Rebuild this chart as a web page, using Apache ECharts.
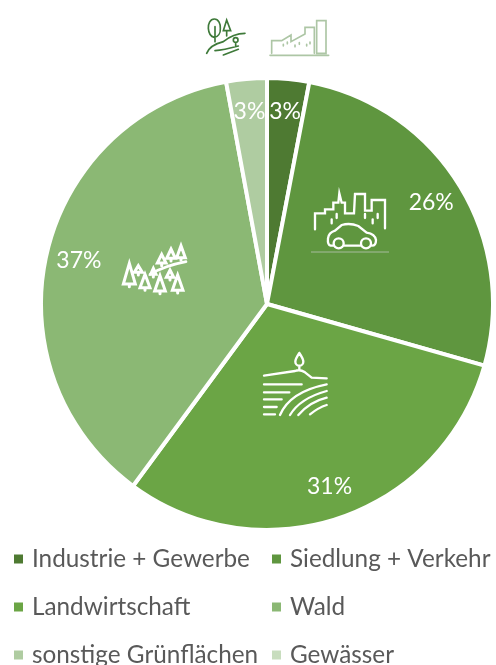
<!DOCTYPE html>
<html>
<head>
<meta charset="utf-8">
<style>
html,body{margin:0;padding:0;background:#fff;overflow:hidden}
#main{width:496px;height:665px}
</style>
<script src="https://cdn.jsdelivr.net/npm/echarts@6/dist/echarts.min.js"></script>
</head>
<body>
<div id="main"></div>
<script>
var categories = ['Industrie + Gewerbe','Siedlung + Verkehr','Landwirtschaft','Wald','sonstige Grünflächen','Gewässer'];
var shares = [3.0,26.4,30.7,37.0,2.9,0];
var colors = ['#4e7a32','#5f963f','#6ba545','#8bb874','#afcca1','#c8ddbe'];
var leftLegend = [categories[0],categories[2],categories[4]];
var rightLegend = [categories[1],categories[3],categories[5]];

// icons were measured on 3x crops, so they are drawn in crop coords and scaled down
var iconCount = 0;
function icon(x,y,d,color,width){
	var name = 'icon'+(iconCount++);
	echarts.graphic.registerShape(name, echarts.graphic.extendPath(d));
	return {
		type:name, x:x, y:y, scaleX:1/3, scaleY:1/3, silent:true, z:10,
		style:{fill:'none',stroke:color,lineWidth:width,lineCap:'round',lineJoin:'miter'}
	};
}
function tree(tx,ty,w,h){
	return 'M'+tx+','+ty+'L'+(tx+w/2)+','+(ty+h)+'H'+(tx-w/2)+'Z M'+tx+','+(ty+h)+'V'+(ty+h+8)+' ';
}

var cityPath = 'M45,148V100H75V88H100V68H115L118,40L125,68H135V100H162L165,42H195V92H215V60H255V145'
	+'M95,118V130M110,102V114M195,102V114M218,118V130M233,102V114'
	+'M100,197H92Q82,195 84,175Q86,158 105,152L125,135Q150,128 175,138L200,158Q225,162 228,180Q228,197 216,197M130,197H184'
	+'M131,190A15,15 0 1 1 101,190A15,15 0 1 1 131,190M213,190A15,15 0 1 1 183,190A15,15 0 1 1 213,190';
var forestPath = tree(155,58,26,26)+tree(183,42,26,28)+tree(213,32,26,36)
	+tree(58,85,36,62)+tree(85,92,24,20)+tree(105,118,30,40)+tree(130,100,16,18)
	+tree(150,122,32,46)+tree(180,105,22,22)+tree(203,120,32,46);
var farmPath = 'M148,24Q160,42 160,50A12,12 0 1 1 136,50Q136,42 148,24M148,62V72'
	+'M42,92L135,78Q150,72 165,82L185,98L230,100'
	+'M42,118H155M42,142H118M42,163H95M42,186H80M42,208H75'
	+'M90,210Q120,140 230,118M120,210Q150,160 230,138M145,210Q180,170 230,158M180,208Q205,188 230,180';
var parkPath = 'M73,57C60,57 54,72 55,85C56,100 64,110 73,112C84,110 92,100 91,85C92,72 86,57 73,57'
	+'M75,80V125M110,60L100,92H122ZM110,92V108'
	+'M165,100Q130,100 100,125Q60,135 50,160'
	+'M144,120A7,7 0 1 1 130,120A7,7 0 1 1 144,120M137,127V140'
	+'M75,152Q100,150 145,138M100,165L145,148';
var factoryPath = 'M245,160V122H275L303,105V125L345,102V82H373V160M380,62H408V160H380Z'
	+'M240,166H416M280,133V138M292,126V131M315,135V140M328,128V133M350,133V138M360,126V131';

var legendText = {fontFamily:'Lato',fontSize:24.3,color:'#595959',padding:[0,0,0,3]};

var option = {
	backgroundColor:'#fff',
	animation:false,
	color:colors,
	legend:[{
		data:leftLegend, orient:'vertical', left:12, top:547, height:200, padding:0,
		itemWidth:11, itemHeight:11, itemGap:24, selectedMode:false, icon:'rect',
		textStyle:legendText
	},{
		data:rightLegend, orient:'vertical', left:270, top:547, height:200, padding:0,
		itemWidth:11, itemHeight:11, itemGap:24, selectedMode:false, icon:'rect',
		textStyle:legendText
	}],
	series:[{
		type:'pie', center:[267,304], radius:[0,226], startAngle:90, silent:true,
		itemStyle:{borderColor:'#fff',borderWidth:4},
		label:{show:false}, labelLine:{show:false},
		data:categories.map(function(c,i){return {name:c,value:shares[i]};})
	},{
		// unfilled ring, only here to put the labels out near the rim
		type:'pie', center:[267,304], radius:[154,226], startAngle:90, silent:true, percentPrecision:0,
		itemStyle:{color:'rgba(0,0,0,0)'},
		labelLine:{show:false},
		label:{position:'inside',formatter:'{d}%',fontFamily:'Lato',fontSize:23,color:'#fff'},
		data:categories.map(function(c,i){return {name:c,value:shares[i],label:{show:shares[i]>0}};})
	}],
	graphic:[
		icon(300,180,cityPath,'#fff',7),
		{type:'line',silent:true,z:10,shape:{x1:311,y1:252,x2:389,y2:252},style:{stroke:'#a7bb9d',lineWidth:1}},
		icon(110,235,forestPath,'#fff',9),
		icon(110,235,'M120,118Q165,92 228,80','#fff',8),
		icon(250,345,farmPath,'#fff',7),
		icon(190,0,parkPath,'#3f7a3a',5),
		icon(190,0,factoryPath,'#adc6a5',5)
	]
};
var myChart = echarts.init(document.getElementById('main'));
myChart.setOption(option);
</script>
</body>
</html>
